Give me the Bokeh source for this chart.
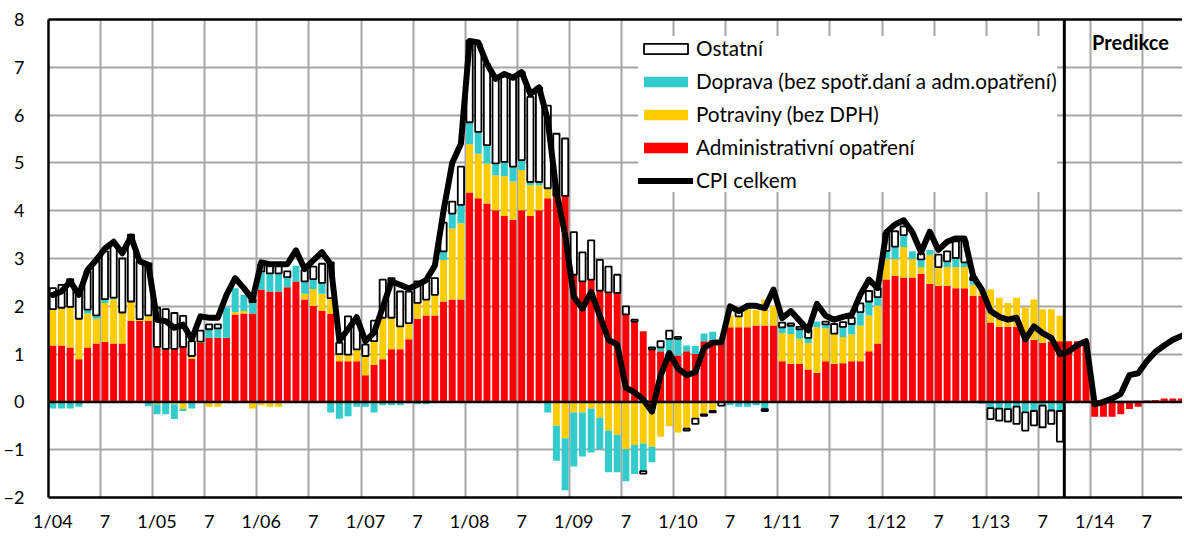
import numpy as np
from bokeh.plotting import figure
from bokeh.models import (ColumnDataSource, FixedTicker, Span, Label, Legend,
                          LegendItem, LinearAxis, Range1d)
from bokeh.embed import file_html
from bokeh.resources import INLINE

# ---------------- data (monthly, 1/2004 .. 12/2014) ----------------
tick_labels = ["1/04", "7", "1/05", "7", "1/06", "7", "1/07", "7", "1/08", "7",
               "1/09", "7", "1/10", "7", "1/11", "7", "1/12", "7", "1/13", "7",
               "1/14", "7"]

admin = [1.18, 1.18, 1.14, 0.89, 1.14, 1.22, 1.26, 1.22, 1.22, 1.69, 1.69, 1.69,
         1.15, 1.11, 1.11, 1.15, 0.90, 1.23, 1.34, 1.34, 1.34, 1.83, 1.85, 1.85,
         2.35, 2.31, 2.31, 2.40, 2.52, 2.14, 2.01, 1.90, 1.84, 0.85, 0.85, 0.85,
         0.56, 0.77, 0.89, 1.10, 1.10, 1.31, 1.74, 1.81, 1.81, 2.10, 2.14, 2.14,
         4.38, 4.26, 4.15, 4.01, 3.89, 3.81, 4.01, 3.89, 4.01, 4.26, 4.31, 4.31,
         2.66, 2.52, 2.56, 2.33, 2.29, 2.28, 1.83, 1.68, 1.48, 1.10, 1.06, 0.97,
         0.97, 1.06, 1.00, 1.27, 1.30, 1.27, 1.56, 1.56, 1.56, 1.60, 1.60, 1.60,
         0.85, 0.80, 0.80, 0.68, 0.61, 0.85, 0.80, 0.81, 0.85, 0.85, 1.06, 1.22,
         2.56, 2.64, 2.60, 2.60, 2.68, 2.47, 2.43, 2.43, 2.38, 2.38, 2.22, 2.22,
         1.66, 1.57, 1.57, 1.57, 1.30, 1.30, 1.24, 1.26, 1.27, 1.27, 1.27, 1.25,
         -0.31, -0.31, -0.31, -0.26, -0.15, -0.10, 0.03, 0.04, 0.07, 0.07, 0.07, 0.07]

food = [0.76, 0.79, 0.85, 0.85, 0.71, 0.52, 0.81, 0.93, 0.65, 0.41, 0.04, 0.12,
        -0.05, 0.0, -0.05, -0.15, 0.06, 0.03, -0.10, -0.10, 0.0, 0.05, 0.05, -0.14,
        -0.07, -0.10, -0.10, 0.0, 0.0, 0.12, 0.35, 0.36, 0.33, 0.15, 0.14, 0.25,
        0.40, 0.50, 0.87, 0.66, 0.48, 0.34, 0.33, 0.33, 0.43, 0.87, 1.49, 1.60,
        1.01, 0.93, 0.84, 0.73, 0.83, 0.80, 0.84, 0.64, 0.52, 0.21, -0.50, -0.76,
        -0.22, -0.22, -0.14, -0.33, -0.60, -0.69, -0.99, -0.90, -0.87, -0.94, -0.73, -0.51,
        -0.64, -0.56, -0.35, -0.26, -0.19, 0.0, 0.25, 0.23, 0.40, 0.33, 0.54, 0.40,
        0.59, 0.62, 0.52, 0.55, 0.95, 0.69, 0.63, 0.55, 0.56, 0.75, 0.75, 0.79,
        0.43, 0.35, 0.64, 0.39, 0.14, 0.61, 0.39, 0.39, 0.44, 0.44, 0.23, 0.13,
        0.69, 0.61, 0.50, 0.61, 0.68, 0.84, 0.70, 0.68, 0.53, 0.0, 0.0, 0.0,
        0.0, 0.0, 0.0, 0.0, 0.0, 0.0, 0.0, 0.0, 0.0, 0.0, 0.0, 0.0]

transport = [-0.14, -0.14, -0.14, -0.10, 0.08, 0.07, 0.08, 0.03, 0.0, 0.0, 0.0, -0.09,
             -0.21, -0.26, -0.31, -0.04, -0.14, 0.0, 0.18, 0.20, 0.64, 0.50, 0.34, 0.24,
             0.38, 0.38, 0.38, 0.21, 0.33, 0.26, 0.21, 0.23, -0.22, -0.35, -0.30, -0.10,
             -0.10, -0.22, -0.07, -0.07, -0.07, -0.03, -0.05, -0.05, 0.0, 0.18, 0.31, 0.38,
             0.46, 0.46, 0.38, 0.25, 0.30, 0.31, 0.21, 0.07, 0.07, -0.22, -0.73, -1.09,
             -1.13, -0.92, -0.92, -0.66, -0.87, -0.78, -0.67, -0.61, -0.58, -0.32, 0.08, 0.35,
             0.35, 0.12, 0.17, 0.16, 0.17, 0.0, -0.07, -0.10, -0.10, -0.07, -0.15, 0.0,
             0.12, 0.17, 0.20, 0.11, 0.12, 0.08, 0.0, 0.21, 0.22, 0.28, 0.29, 0.18,
             0.17, 0.26, 0.25, 0.16, 0.16, 0.10, 0.0, 0.12, 0.19, 0.10, 0.10, -0.04,
             -0.13, -0.14, -0.15, -0.10, -0.22, -0.19, -0.08, -0.18, -0.19, 0.0, 0.0, 0.0,
             0.0, 0.0, 0.0, 0.0, 0.0, 0.0, 0.0, 0.0, 0.0, 0.0, 0.0, 0.0]

other = [0.44, 0.48, 0.58, 0.57, 0.80, 1.13, 1.00, 1.10, 1.13, 1.40, 1.22, 1.09,
         0.82, 0.83, 0.75, 0.65, 0.31, 0.23, 0.10, 0.08, 0.0, 0.0, 0.0, 0.05,
         0.15, 0.21, 0.21, 0.12, 0.0, 0.24, 0.26, 0.40, 0.75, 0.24, 0.80, 0.55,
         0.24, 0.43, 0.80, 0.83, 0.73, 0.66, 0.45, 0.42, 0.35, 0.60, 0.25, 0.80,
         1.71, 1.85, 1.70, 1.77, 1.84, 1.84, 1.84, 1.78, 1.98, 1.73, 1.30, 1.20,
         0.89, 0.61, 0.82, 0.64, 0.54, 0.38, 0.17, 0.04, -0.05, 0.04, 0.13, 0.17,
         0.04, -0.04, -0.11, -0.03, -0.03, -0.08, 0.0, 0.15, 0.0, 0.0, -0.04, 0.0,
         0.10, 0.05, 0.05, 0.18, 0.0, 0.06, 0.20, 0.10, 0.13, 0.18, 0.22, 0.19,
         0.37, 0.32, 0.18, 0.0, 0.12, 0.0, 0.26, 0.21, 0.35, 0.45, 0.06, 0.0,
         -0.23, -0.25, -0.26, -0.36, -0.38, -0.30, -0.45, -0.28, -0.64, 0.0, 0.0, 0.0,
         0.0, 0.0, 0.0, 0.0, 0.0, 0.0, 0.0, 0.0, 0.0, 0.0, 0.0, 0.0]

cpi = [2.24, 2.31, 2.52, 2.24, 2.76, 2.97, 3.21, 3.35, 3.11, 3.46, 2.94, 2.87,
       1.72, 1.69, 1.55, 1.62, 1.31, 1.79, 1.76, 1.76, 2.24, 2.59, 2.38, 2.14,
       2.92, 2.88, 2.88, 2.88, 3.17, 2.78, 2.96, 3.13, 2.88, 1.28, 1.52, 1.77,
       1.27, 1.45, 1.98, 2.52, 2.45, 2.37, 2.45, 2.55, 2.85, 4.00, 5.00, 5.40,
       7.55, 7.52, 7.07, 6.76, 6.86, 6.78, 6.90, 6.44, 6.58, 5.90, 4.40, 3.50,
       2.20, 1.95, 2.30, 1.80, 1.30, 1.20, 0.30, 0.20, 0.05, -0.20, 0.55, 1.02,
       0.70, 0.56, 0.62, 1.13, 1.24, 1.25, 2.00, 1.90, 2.01, 2.01, 1.96, 2.35,
       1.75, 1.90, 1.70, 1.50, 2.05, 1.80, 1.72, 1.78, 1.82, 2.24, 2.56, 2.38,
       3.55, 3.71, 3.80, 3.55, 3.13, 3.56, 3.18, 3.35, 3.42, 3.42, 2.63, 2.35,
       1.90, 1.78, 1.72, 1.76, 1.31, 1.58, 1.44, 1.34, 1.00, 1.05, 1.19, 1.27,
       -0.05, 0.00, 0.07, 0.17, 0.56, 0.60, 0.85, 1.05, 1.18, 1.30, 1.38, 1.45]

months = list(range(len(cpi)))
forecast_start = 117  # first forecast month (10/13)

# ---------------- figure ----------------
FONT = "Lato"
p = figure(width=1182, height=534,
           x_range=Range1d(-0.5, 130.11), y_range=Range1d(-2, 8),
           output_backend="svg", toolbar_location=None,
           min_border_left=45, min_border_right=0,
           min_border_top=19, min_border_bottom=35)
p.outline_line_color = None
p.background_fill_color = "white"

# grid
p.xgrid.ticker = FixedTicker(ticks=[6 * k - 0.5 for k in range(23)])
p.ygrid.ticker = FixedTicker(ticks=list(range(-2, 9)))
for g in (p.xgrid, p.ygrid):
    g.grid_line_color = "#a6a6a6"
    g.grid_line_width = 2

# axes
p.yaxis.ticker = FixedTicker(ticks=list(range(-2, 9)))
p.xaxis.ticker = FixedTicker(ticks=[6 * k for k in range(len(tick_labels))])
p.xaxis.major_label_overrides = {6 * k: t for k, t in enumerate(tick_labels)}
for ax in (p.xaxis[0], p.yaxis[0]):
    ax.axis_line_color = "black"
    ax.axis_line_width = 2.5
    ax.major_tick_out = 0
    ax.major_tick_in = 0
    ax.minor_tick_out = 0
    ax.minor_tick_in = 0
    ax.major_label_text_font = FONT
    ax.major_label_text_font_size = "18px"
    ax.major_label_text_color = "black"
p.yaxis.major_label_standoff = 24
p.xaxis.major_label_standoff = 12

top_axis = LinearAxis(ticker=FixedTicker(ticks=[]), axis_line_color="black",
                      axis_line_width=2.5, major_tick_out=0, major_tick_in=0,
                      minor_tick_out=0, minor_tick_in=0, major_label_standoff=0)
p.add_layout(top_axis, "above")

# stacked bars
series = [("Administrativní opatření", admin, "#FF0000"),
          ("Potraviny (bez DPH)", food, "#FFCC00"),
          ("Doprava (bez spotř.daní a adm.opatření)", transport, "#33CCCC"),
          ("Ostatní", other, "white")]

x_all = np.array(months, dtype=float)
pos = np.zeros(len(months))
neg = np.zeros(len(months))
rends = {}
for name, vals, color in series:
    v = np.array(vals, dtype=float)
    bottom = np.where(v >= 0, pos, neg + v)
    top = np.where(v >= 0, pos + v, neg)
    pos = np.where(v >= 0, pos + v, pos)
    neg = np.where(v < 0, neg + v, neg)
    m = v != 0
    src = ColumnDataSource(dict(x=x_all[m], bottom=bottom[m], top=top[m]))
    if name == "Ostatní":
        r = p.vbar(x="x", bottom="bottom", top="top", width=0.72, source=src,
                   fill_color="white", line_color="black", line_width=1.8)
    else:
        r = p.vbar(x="x", bottom="bottom", top="top", width=0.8, source=src,
                   fill_color=color, line_color=None)
    rends[name] = r

# CPI line
r_cpi = p.line(months, cpi, line_color="black", line_width=6,
               line_join="round", line_cap="round")

# zero line and forecast divider
p.add_layout(Span(location=0, dimension="width", line_color="black", line_width=2.5))
p.add_layout(Span(location=forecast_start - 0.5, dimension="height",
                  line_color="black", line_width=3))
p.add_layout(Label(x=119.7, y=7.52, text="Predikce", text_font=FONT,
                   text_font_style="bold", text_font_size="20px",
                   text_baseline="middle", text_align="left", text_color="black"))

# legend
items = [LegendItem(label="Ostatní", renderers=[rends["Ostatní"]]),
         LegendItem(label="Doprava (bez spotř.daní a adm.opatření)",
                    renderers=[rends["Doprava (bez spotř.daní a adm.opatření)"]]),
         LegendItem(label="Potraviny (bez DPH)", renderers=[rends["Potraviny (bez DPH)"]]),
         LegendItem(label="Administrativní opatření",
                    renderers=[rends["Administrativní opatření"]]),
         LegendItem(label="CPI celkem", renderers=[r_cpi])]
legend = Legend(items=items, location=(590, 305),
                label_text_font=FONT, label_text_font_size="20.7px",
                label_text_color="black",
                glyph_width=55, glyph_height=13, label_height=20,
                label_standoff=3, spacing=9, padding=8, margin=0,
                border_line_color=None, background_fill_color="white",
                background_fill_alpha=1.0)
p.add_layout(legend)

open("out.html", "w").write(file_html(p, INLINE))
